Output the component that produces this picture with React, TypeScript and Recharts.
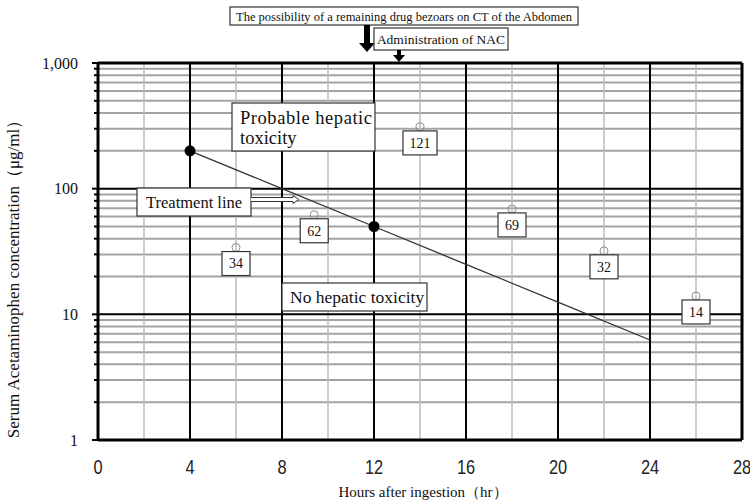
import React from 'react';
import { ComposedChart, XAxis, YAxis, Line, Scatter, ReferenceLine } from 'recharts';

// ---- data ----
const xTicks = [0, 4, 8, 12, 16, 20, 24, 28];
const xMinorGrid = [2, 6, 10, 14, 18, 22, 26];
const yDecades = [1, 10, 100, 1000];
const yTickLabels = ['1', '10', '100', '1,000'];
const yMinorGrid = [
  2, 3, 4, 5, 6, 7, 8, 9,
  20, 30, 40, 50, 60, 70, 80, 90,
  200, 300, 400, 500, 600, 700, 800, 900,
];

const treatmentHours = [4, 8, 12, 16, 20, 24];
const treatmentConc = [200, 100, 50, 25, 12.5, 6.25];
const markedHours = [4, 12];
const markedConc = [200, 50];

const patientHours = [6, 9.4, 14, 18, 22, 26];
const patientConc = [34, 62, 310, 69, 32, 14];
const patientLabels = ['34', '62', '121', '69', '32', '14'];

const treatmentData = treatmentHours.map((h, i) => ({ x: h, y: treatmentConc[i] }));
const markedData = markedHours.map((h, i) => ({ x: h, y: markedConc[i] }));
const patientData = patientHours.map((h, i) => ({ x: h, y: patientConc[i], label: patientLabels[i] }));

const SERIF = '"Liberation Serif", "Times New Roman", serif';
const SANS = '"Liberation Sans", "DejaVu Sans", sans-serif';

const YTick = (props: any) => {
  const { x, y, payload } = props;
  const v = payload.value;
  const idx = yDecades.indexOf(v);
  const major = idx >= 0;
  const ax = x + 20;
  return (
    <g>
      <line x1={ax - (major ? 6 : 4)} x2={ax} y1={y} y2={y} stroke="#000" strokeWidth={2} />
      {major && (
        <text x={x} y={y} dy="0.35em" textAnchor="end" fontFamily={SERIF} fontSize={16} fill="#111">
          {yTickLabels[idx]}
        </text>
      )}
    </g>
  );
};

const XTick = (props: any) => {
  const { x, y, payload } = props;
  return (
    <text
      transform={`translate(${x},${y}) scale(0.78,1)`}
      x={0}
      y={0}
      dy="0.74em"
      textAnchor="middle"
      fontFamily={SANS}
      fontSize={21}
      fill="#222"
    >
      {payload.value}
    </text>
  );
};

const PatientShape = (props: any) => {
  const { cx, cy, payload } = props;
  const label = payload.label as string;
  const w = label.length >= 3 ? 34 : 28;
  const h = 24;
  return (
    <g>
      <circle cx={cx} cy={cy} r={4} fill="none" stroke="#8c8c8c" strokeWidth={1} />
      <rect x={cx - w / 2} y={cy + 4} width={w} height={h} fill="#fff" stroke="#333" strokeWidth={1.2} />
      <text x={cx} y={cy + 4 + h / 2} dy="0.35em" textAnchor="middle" fontFamily={SERIF} fontSize={14} fill="#111">
        {label}
      </text>
    </g>
  );
};

const MarkedDot = (props: any) => {
  const { cx, cy } = props;
  return <circle cx={cx} cy={cy} r={5.5} fill="#000" />;
};

export default function App() {
  return (
    <div style={{ position: 'absolute', left: 0, top: 0, width: 750, height: 503, background: '#fff' }}>
      <ComposedChart width={750} height={503} margin={{ top: 63, right: 8, left: 0, bottom: 0 }}>
        <XAxis
          dataKey="x"
          type="number"
          domain={[0, 28]}
          ticks={xTicks}
          interval={0}
          height={63}
          tickSize={0}
          tickMargin={18}
          axisLine={false}
          tickLine={false}
          tick={<XTick />}
        />
        <YAxis
          dataKey="y"
          type="number"
          scale="log"
          domain={[1, 1000]}
          allowDataOverflow
          ticks={[...yDecades, ...yMinorGrid]}
          interval={0}
          width={98}
          tickSize={0}
          tickMargin={20}
          axisLine={false}
          tickLine={false}
          tick={<YTick />}
        />
        {yMinorGrid.map((v) => (
          <ReferenceLine key={'ym' + v} y={v} stroke="#a3a3a3" strokeWidth={2} ifOverflow="hidden" />
        ))}
        {xMinorGrid.map((v) => (
          <ReferenceLine key={'xm' + v} x={v} stroke="#bdbdbd" strokeWidth={1.5} />
        ))}
        {yDecades.slice(1, 3).map((v) => (
          <ReferenceLine key={'yM' + v} y={v} stroke="#000" strokeWidth={2} />
        ))}
        {xTicks.slice(1, -1).map((v) => (
          <ReferenceLine key={'xM' + v} x={v} stroke="#000" strokeWidth={2} />
        ))}
        <ReferenceLine x={0} stroke="#000" strokeWidth={3} />
        <ReferenceLine x={28} stroke="#000" strokeWidth={3} />
        <ReferenceLine y={1} stroke="#000" strokeWidth={3} />
        <ReferenceLine y={1000} stroke="#000" strokeWidth={3} />
        <Line
          data={treatmentData}
          dataKey="y"
          type="linear"
          stroke="#333"
          strokeWidth={1.3}
          dot={false}
          isAnimationActive={false}
        />
        <Scatter data={markedData} dataKey="y" shape={<MarkedDot />} isAnimationActive={false} />
        <Scatter data={patientData} dataKey="y" shape={<PatientShape />} isAnimationActive={false} />
      </ComposedChart>
      <svg
        width={750}
        height={503}
        style={{ position: 'absolute', left: 0, top: 0, pointerEvents: 'none' }}
      >
        {/* top annotations */}
        <rect x={230} y={7} width={348} height={18} fill="#fff" stroke="#333" strokeWidth={1.2} />
        <text x={236} y={20.5} fontFamily={SERIF} fontSize={13.5} fill="#111" textLength={336} lengthAdjust="spacingAndGlyphs">
          The possibility of a remaining drug bezoars on CT of the Abdomen
        </text>
        <rect x={364} y={25} width={6} height={19} fill="#000" />
        <polygon points="359,43 375,43 367,52" fill="#000" />
        <rect x={374} y={28} width={134} height={22} fill="#fff" stroke="#333" strokeWidth={1.2} />
        <text x={441} y={43.5} textAnchor="middle" fontFamily={SERIF} fontSize={13.5} fill="#111">
          Administration of NAC
        </text>
        <rect x={397} y={50} width={4} height={6} fill="#000" />
        <polygon points="393,55 405,55 399,62" fill="#000" />

        {/* region labels */}
        <rect x={232} y={103} width={143} height={48} fill="#fff" stroke="#333" strokeWidth={1.2} />
        <text x={240} y={124} fontFamily={SERIF} fontSize={18.5} fill="#111" textLength={132} lengthAdjust="spacing">Probable hepatic</text>
        <text x={240} y={144} fontFamily={SERIF} fontSize={18.5} fill="#111">toxicity</text>

        <rect x={137} y={188} width={114} height={28} fill="#fff" stroke="#333" strokeWidth={1.2} />
        <text x={146} y={208} fontFamily={SERIF} fontSize={16.5} fill="#111">Treatment line</text>
        <path d="M251,197.5 L293,197.5 L293,195.5 L299,199.5 L293,203.5 L293,201.5 L251,201.5"
          fill="#fff" stroke="#333" strokeWidth={1} />

        <rect x={282} y={283} width={145} height={28} fill="#fff" stroke="#333" strokeWidth={1.2} />
        <text x={290} y={303} fontFamily={SERIF} fontSize={17.5} fill="#111">No hepatic toxicity</text>

        {/* axis titles */}
        <text
          x={19}
          y={275}
          transform="rotate(-90 19 275)"
          textAnchor="middle"
          fontFamily={SERIF}
          fontSize={17}
          fill="#111"
        >
          Serum Acetaminophen concentration（μg/ml）
        </text>
        <text x={423} y={497} textAnchor="middle" fontFamily={SERIF} fontSize={15} fill="#111">
          Hours after ingestion（hr）
        </text>
      </svg>
    </div>
  );
}
